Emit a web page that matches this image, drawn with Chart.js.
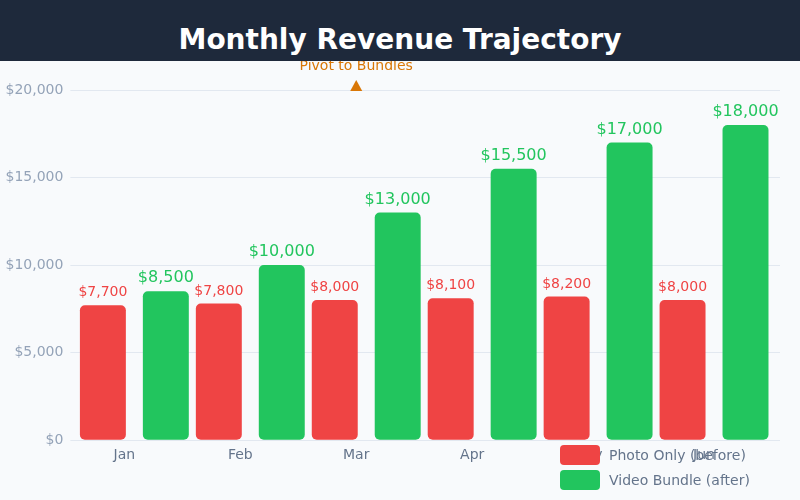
<!DOCTYPE html>
<html>
<head>
<meta charset="utf-8">
<script src="https://cdn.jsdelivr.net/npm/chart.js@4.4.1/dist/chart.umd.min.js"></script>
<style>
    html, body { margin: 0; padding: 0; }
    body {
        width: 800px;
        height: 500px;
        background: #f8fafc;
        font-family: "DejaVu Sans", sans-serif;
        position: relative;
        overflow: hidden;
    }
    .header {
        position: absolute;
        left: 0; top: 0;
        width: 800px; height: 61px;
        background: #1e293b;
        z-index: 2;
    }
    .header h1 {
        position: absolute;
        left: 0; right: 0; top: 26px;
        margin: 0;
        font-size: 28px;
        line-height: 28px;
        font-weight: bold;
        color: #ffffff;
        text-align: center;
    }
    .chart-wrap {
        position: absolute;
        left: 0; top: 61px;
        width: 800px; height: 439px;
    }
    .legend {
        position: absolute;
        left: 560px; top: 445px;
        z-index: 3;
    }
    .legend-item {
        display: flex;
        align-items: center;
        height: 20px;
        margin-bottom: 5px;
        font-size: 14px;
        color: #64748b;
    }
    .legend-box {
        width: 40px; height: 20px;
        border-radius: 4px;
        margin-right: 9px;
    }
</style>
</head>
<body>
<div class="header"><h1>Monthly Revenue Trajectory</h1></div>
<div class="chart-wrap"><canvas id="revenue-chart"></canvas></div>
<div class="legend" id="legend"></div>

<script>
const months = ['Jan', 'Feb', 'Mar', 'Apr', 'May', 'Jun'];
const photoOnly = [7700, 7800, 8000, 8100, 8200, 8000];
const videoBundle = [8500, 10000, 13000, 15500, 17000, 18000];
const yTicks = [0, 5000, 10000, 15000, 20000];
const pivotMonth = 'Mar';
const pivotLabel = 'Pivot to Bundles';

const LABEL_SHIFT = -10;

function money(v) {
    return '$' + Number(v).toLocaleString('en-US');
}

// paint value labels over each bar
const valueLabels = {
    id: 'valueLabels',
    afterDatasetsDraw(chart) {
        const ctx = chart.ctx;
        chart.data.datasets.forEach((ds, i) => {
            const meta = chart.getDatasetMeta(i);
            ctx.save();
            ctx.font = (ds.labelSize || 14) + 'px "DejaVu Sans"';
            ctx.fillStyle = ds.backgroundColor;
            ctx.textAlign = 'center';
            ctx.textBaseline = 'alphabetic';
            meta.data.forEach((bar, j) => {
                ctx.fillText(money(ds.data[j]), bar.x, bar.y - 9);
            });
            ctx.restore();
        });
    }
};

// triangle marker + caption above the pivot month
const pivotMarker = {
    id: 'pivotMarker',
    afterDraw(chart) {
        const ctx = chart.ctx;
        const x = chart.scales.x.getPixelForValue(months.indexOf(pivotMonth)) + LABEL_SHIFT;
        const top = chart.chartArea.top;
        ctx.save();
        ctx.fillStyle = '#d97706';
        ctx.beginPath();
        ctx.moveTo(x, top - 10);
        ctx.lineTo(x + 6, top + 1);
        ctx.lineTo(x - 6, top + 1);
        ctx.closePath();
        ctx.fill();
        ctx.font = '14px "DejaVu Sans"';
        ctx.textAlign = 'center';
        ctx.textBaseline = 'alphabetic';
        ctx.fillText(pivotLabel, x, top - 20);
        ctx.restore();
    }
};

Chart.defaults.font.family = '"DejaVu Sans", sans-serif';

const yScaleBase = {
    min: yTicks[0],
    max: yTicks[yTicks.length - 1],
    afterBuildTicks: (axis) => { axis.ticks = yTicks.map(v => ({ value: v })); },
    border: { display: false }
};

const chart = new Chart(document.getElementById('revenue-chart'), {
    type: 'bar',
    data: {
        labels: months,
        datasets: [
            {
                label: 'Photo Only (before)',
                data: photoOnly,
                backgroundColor: '#ef4444',
                labelSize: 14
            },
            {
                label: 'Video Bundle (after)',
                data: videoBundle,
                backgroundColor: '#22c55e',
                labelSize: 16
            }
        ]
    },
    options: {
        responsive: true,
        maintainAspectRatio: false,
        animation: false,
        layout: {
            padding: { left: -1.5, right: 20, top: 29, bottom: 29 }
        },
        datasets: {
            bar: {
                categoryPercentage: 1.086,
                barPercentage: 0.73,
                borderRadius: 5,
                borderSkipped: false
            }
        },
        plugins: {
            legend: { display: false },
            tooltip: { enabled: false }
        },
        scales: {
            x: {
                grid: { display: false, drawTicks: false },
                border: { display: false },
                ticks: {
                    color: '#64748b',
                    font: { size: 14 },
                    padding: 7,
                    labelOffset: LABEL_SHIFT
                }
            },
            y: {
                ...yScaleBase,
                position: 'left',
                grid: { color: '#e2e8f0', tickLength: 6, drawTicks: true },
                ticks: {
                    color: '#94a3b8',
                    font: { size: 14 },
                    padding: 7,
                    callback: (v) => money(v)
                }
            },
            y2: {
                ...yScaleBase,
                position: 'right',
                grid: { color: '#e2e8f0', tickLength: 8, drawTicks: true, drawOnChartArea: false },
                ticks: { display: false }
            }
        }
    },
    plugins: [valueLabels, pivotMarker]
});

// html legend built from the datasets
const legendEl = document.getElementById('legend');
chart.data.datasets.forEach(ds => {
    const item = document.createElement('div');
    item.className = 'legend-item';
    const box = document.createElement('span');
    box.className = 'legend-box';
    box.style.background = ds.backgroundColor;
    const text = document.createElement('span');
    text.textContent = ds.label;
    item.appendChild(box);
    item.appendChild(text);
    legendEl.appendChild(item);
});
</script>
</body>
</html>
